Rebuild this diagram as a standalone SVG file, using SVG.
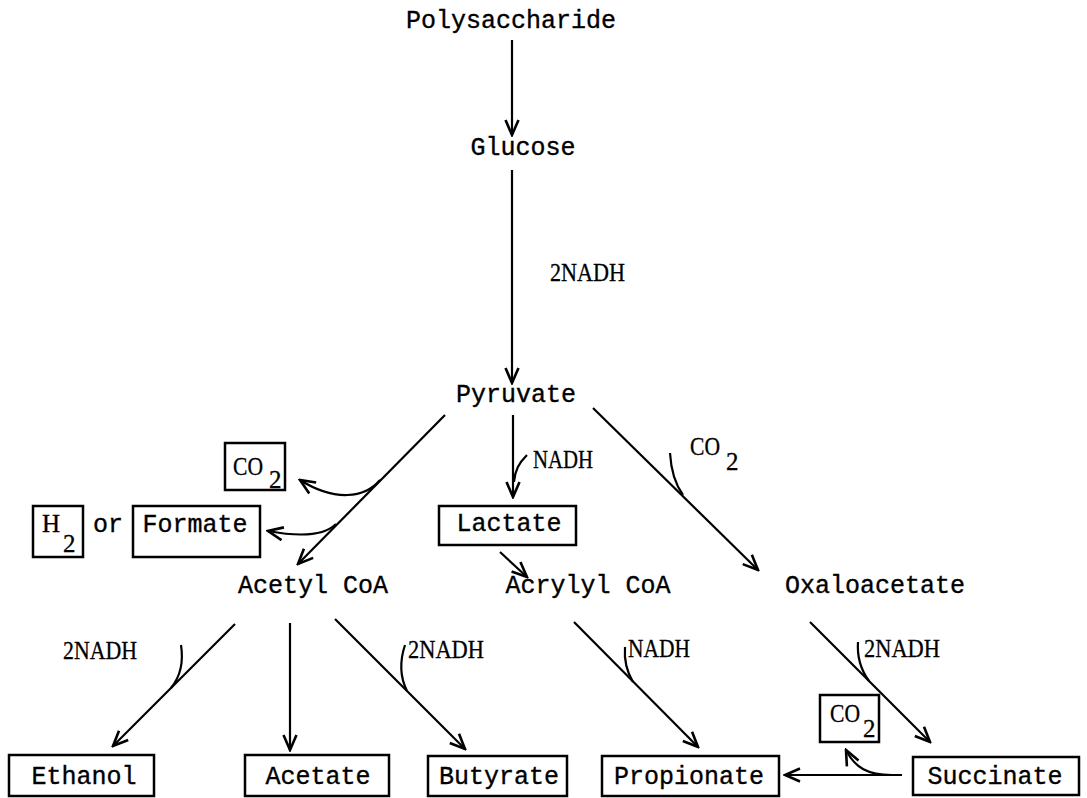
<svg xmlns="http://www.w3.org/2000/svg" width="1087" height="798" viewBox="0 0 1087 798">
<style>
.t{font-family:"Liberation Mono","Courier New",monospace;font-size:25px;fill:#000;stroke:#000;stroke-width:0.35;text-anchor:middle}
.s{font-family:"Liberation Serif","Times New Roman",serif;font-size:26px;fill:#000;stroke:#000;stroke-width:0.3}
.c{font-family:"Liberation Serif","Times New Roman",serif;font-size:25px;fill:#000;stroke:#000;stroke-width:0.3}
.box{fill:none;stroke:#000;stroke-width:2.5}
.ln{fill:none;stroke:#000;stroke-width:2.2}
.arr{fill:none;stroke:#000;stroke-width:2.2;marker-end:url(#ah)}
</style>
<defs>
<marker id="ah" viewBox="0 0 18 16" markerWidth="18" markerHeight="16" refX="16" refY="8" orient="auto" markerUnits="userSpaceOnUse">
<path d="M1,1.5 L16,8 L1,14.5" fill="none" stroke="#000" stroke-width="2.6" stroke-linejoin="miter"/>
</marker>
</defs>
<rect width="1087" height="798" fill="#fff"/>

<g id="connectors">
<path class="arr" d="M512,40 L512,135"/>
<path class="arr" d="M512,170 L512,383"/>
<path class="arr" d="M445,415 L298,564"/>
<path class="arr" d="M380,480 C365,498 335,502 300,480"/>
<path class="arr" d="M336,524 C324,536 300,537 268,531"/>
<path class="arr" d="M513,415 L513,497"/>
<path class="ln" d="M527,455 C519,463 515,470 514,482"/>
<path class="arr" d="M500,552 L527,577"/>
<path class="arr" d="M593,408 L758,570"/>
<path class="ln" d="M670,453 C671,470 675,484 683,495"/>
<path class="arr" d="M235,624 L113,746"/>
<path class="ln" d="M181,645 C184,664 180,677 171,688"/>
<path class="arr" d="M290,623 L290,750"/>
<path class="arr" d="M335,619 L465,749"/>
<path class="ln" d="M405,645 C400,660 400,677 407,691"/>
<path class="arr" d="M574,622 L698,747"/>
<path class="ln" d="M625,647 C624,660 627,672 633,682"/>
<path class="arr" d="M810,622 L930,742"/>
<path class="ln" d="M858,642 C857,656 861,670 869,681"/>
<path class="arr" d="M902,775 L785,775"/>
<path class="arr" d="M892,775 C868,775 855,768 846,750"/>
</g>

<g id="polysaccharide"><text class="t" x="511" y="28">Polysaccharide</text></g>
<g id="glucose"><text class="t" x="523" y="155">Glucose</text></g>
<g id="nadh-glycolysis"><text class="s" x="550" y="281" textLength="75" lengthAdjust="spacingAndGlyphs">2NADH</text></g>
<g id="pyruvate"><text class="t" x="516" y="402">Pyruvate</text></g>

<g id="co2-left"><rect class="box" x="225" y="443" width="60" height="47"/><text class="c" x="233" y="475" textLength="30" lengthAdjust="spacingAndGlyphs">CO</text><text class="c" x="269" y="488">2</text></g>
<g id="h2"><rect class="box" x="33" y="506" width="50" height="51"/><text class="c" x="42" y="532">H</text><text class="c" x="63" y="552">2</text></g>
<g id="or"><text class="t" x="108" y="532">or</text></g>
<g id="formate"><rect class="box" x="133" y="506" width="127" height="51"/><text class="t" x="195" y="532">Formate</text></g>
<g id="acetylcoa"><text class="t" x="313" y="593">Acetyl CoA</text></g>

<g id="nadh-lactate"><text class="s" x="533" y="468" textLength="60" lengthAdjust="spacingAndGlyphs">NADH</text></g>
<g id="lactate"><rect class="box" x="439" y="506" width="137" height="39"/><text class="t" x="509" y="531">Lactate</text></g>
<g id="acrylylcoa"><text class="t" x="588" y="593">Acrylyl CoA</text></g>

<g id="co2-in"><text class="c" x="690" y="455" textLength="30" lengthAdjust="spacingAndGlyphs">CO</text><text class="c" x="726" y="470">2</text></g>
<g id="oxaloacetate"><text class="t" x="875" y="593">Oxaloacetate</text></g>

<g id="nadh-ethanol"><text class="s" x="63" y="659" textLength="74" lengthAdjust="spacingAndGlyphs">2NADH</text></g>
<g id="nadh-butyrate"><text class="s" x="408" y="658" textLength="76" lengthAdjust="spacingAndGlyphs">2NADH</text></g>
<g id="nadh-propionate"><text class="s" x="628" y="657" textLength="62" lengthAdjust="spacingAndGlyphs">NADH</text></g>
<g id="nadh-succinate"><text class="s" x="864" y="657" textLength="76" lengthAdjust="spacingAndGlyphs">2NADH</text></g>

<g id="ethanol"><rect class="box" x="9" y="755" width="145" height="41"/><text class="t" x="84" y="784">Ethanol</text></g>
<g id="acetate"><rect class="box" x="245" y="755" width="144" height="41"/><text class="t" x="318" y="784">Acetate</text></g>
<g id="butyrate"><rect class="box" x="428" y="756" width="139" height="40"/><text class="t" x="499" y="784">Butyrate</text></g>
<g id="propionate"><rect class="box" x="602" y="756" width="177" height="40"/><text class="t" x="689" y="784">Propionate</text></g>
<g id="co2-out"><rect class="box" x="820" y="695" width="59" height="47"/><text class="c" x="830" y="722" textLength="30" lengthAdjust="spacingAndGlyphs">CO</text><text class="c" x="863" y="737">2</text></g>
<g id="succinate"><rect class="box" x="913" y="757" width="166" height="38"/><text class="t" x="995" y="784">Succinate</text></g>
</svg>
